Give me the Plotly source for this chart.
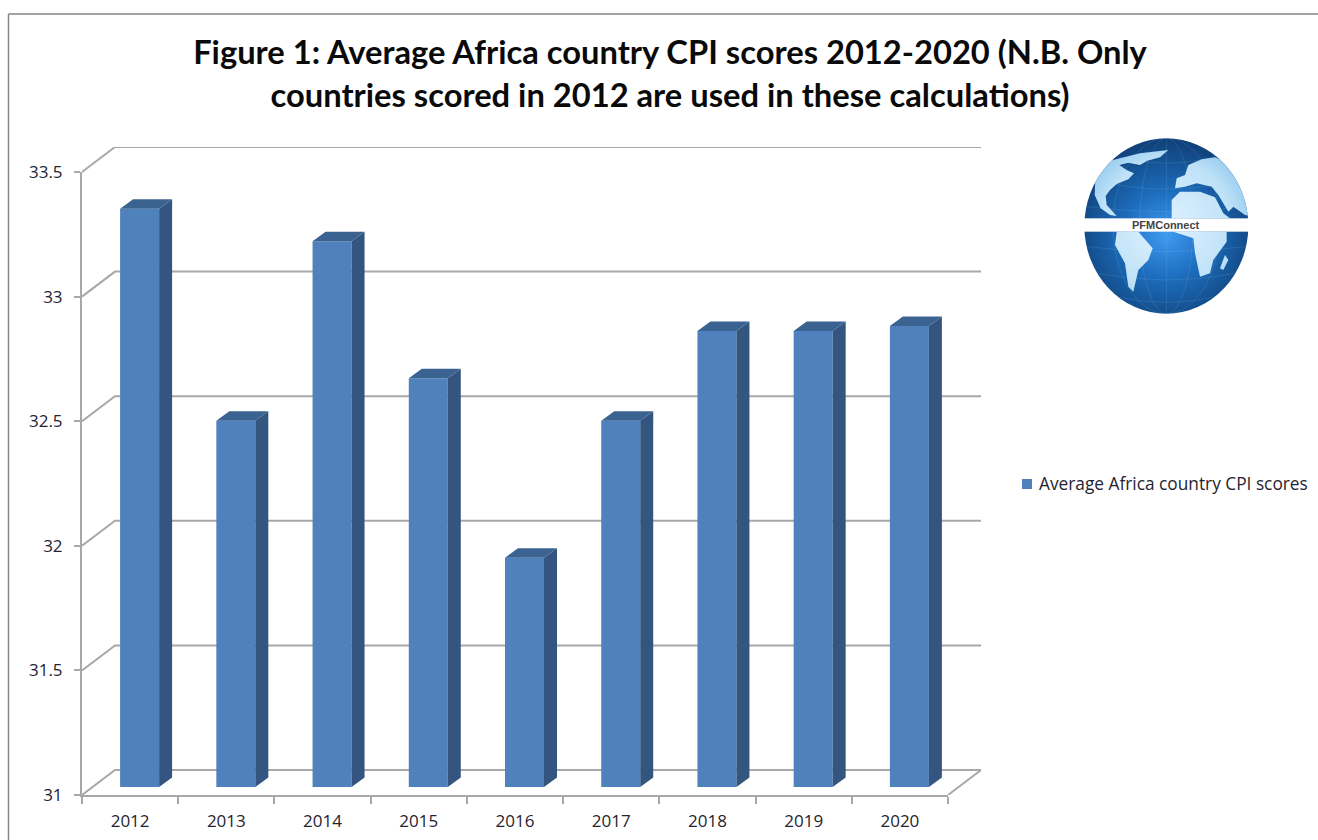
import base64
import plotly.graph_objects as go

years = ["2012", "2013", "2014", "2015", "2016", "2017", "2018", "2019", "2020"]
scores = [33.32, 32.47, 33.19, 32.64, 31.92, 32.47, 32.83, 32.83, 32.85]
y_ticks = [31, 31.5, 32, 32.5, 33, 33.5]
y_labels = ["31", "31.5", "32", "32.5", "33", "33.5"]
series_name = "Average Africa country CPI scores"
title_text = ("Figure 1: Average Africa country CPI scores 2012-2020 (N.B. Only<br>"
              "countries scored in 2012 are used in these calculations)")

W, H = 1318, 840
GRID = "#a8a8a8"
FRONT, SIDE, TOP = "#4f81bd", "#335580", "#3a6391"
TEXT = "#1f2430"
FONT = "Open Sans"

# pixel geometry of the front plane of the pseudo-3D box
left, right, bottom, top = 82, 948, 795, 172
px_x = (right - left) / 9
px_y = (bottom - top) / 2.5
wall_px_x, wall_px_y = 33, 25                  # depth of the chart box
wall_dx, wall_dy = wall_px_x / px_x, wall_px_y / px_y
shift_x, shift_y = 9.5, 8                      # bars stand part-way into the box
bar_w = 39 / px_x
bar_px_x, bar_px_y = 13, 9.5                   # depth of one bar
bar_dx, bar_dy = bar_px_x / px_x, bar_px_y / px_y
x_rng = [-0.5, 8.5 + wall_dx]
y_rng = [31, 33.5 + wall_dy]


def fx(a, b):
    return [a / W, b / W]


def fy(a, b):
    return [1 - a / H, 1 - b / H]


xs = list(range(len(years)))
fig = go.Figure()

# carrier for the visible axes
fig.add_trace(go.Scatter(x=xs, y=scores, mode="none", hoverinfo="skip", showlegend=False, xaxis="x", yaxis="y"))

# back-wall gridlines with their diagonal on the left wall
for v in y_ticks:
    fig.add_trace(go.Scatter(
        x=[-0.5, -0.5 + wall_dx, 8.5 + wall_dx], y=[v, v + wall_dy, v + wall_dy],
        mode="lines", line=dict(color=GRID, width=2),
        hoverinfo="skip", showlegend=False, xaxis="x2", yaxis="y2"))
# right edge of the floor
fig.add_trace(go.Scatter(
    x=[8.5, 8.5 + wall_dx], y=[y_ticks[0], y_ticks[0] + wall_dy],
    mode="lines", line=dict(color=GRID, width=2),
    hoverinfo="skip", showlegend=False, xaxis="x2", yaxis="y2"))

# bars: front faces
fig.add_trace(go.Bar(
    x=xs, y=scores, width=bar_w, name=series_name, marker=dict(color=FRONT, line=dict(width=0)),
    showlegend=False, xaxis="x3", yaxis="y3",
    customdata=years, hovertemplate="%{customdata}: %{y}<extra></extra>"))

# bars: side and top faces
base = y_ticks[0]
for x, v in zip(xs, scores):
    r = x + bar_w / 2
    l = x - bar_w / 2
    fig.add_trace(go.Scatter(
        x=[r, r + bar_dx, r + bar_dx, r, r], y=[base, base + bar_dy, v + bar_dy, v, base],
        mode="lines", fill="toself", fillcolor=SIDE, line=dict(width=0),
        hoverinfo="skip", showlegend=False, xaxis="x3", yaxis="y3"))
    fig.add_trace(go.Scatter(
        x=[l, l + bar_dx, r + bar_dx, r, l], y=[v, v + bar_dy, v + bar_dy, v, v],
        mode="lines", fill="toself", fillcolor=TOP, line=dict(width=0),
        hoverinfo="skip", showlegend=False, xaxis="x3", yaxis="y3"))

# globe logo
svg = """<svg xmlns="http://www.w3.org/2000/svg" width="630" height="630" viewBox="0 0 630 630">
<defs>
<radialGradient id="s" gradientUnits="userSpaceOnUse" cx="319" cy="345" r="290">
<stop offset="0" stop-color="#3f9bf2"/><stop offset="0.45" stop-color="#1d6dbd"/>
<stop offset="0.8" stop-color="#14508f"/><stop offset="1" stop-color="#0f3f78"/></radialGradient>
<radialGradient id="l" gradientUnits="userSpaceOnUse" cx="319" cy="318" r="280">
<stop offset="0" stop-color="#e0f2fd"/><stop offset="0.7" stop-color="#bfe2f8"/>
<stop offset="1" stop-color="#8fc6ec"/></radialGradient>
<clipPath id="c"><ellipse cx="319" cy="318" rx="246" ry="263"/></clipPath>
<filter id="b"><feGaussianBlur stdDeviation="2"/></filter>
</defs>
<ellipse cx="319" cy="318" rx="246" ry="263" fill="url(#s)"/>
<g fill="none" stroke="#9fd0f5" stroke-opacity="0.28" stroke-width="1.5" clip-path="url(#c)">
<ellipse cx="319" cy="318" rx="80" ry="263"/><ellipse cx="319" cy="318" rx="160" ry="263"/>
<line x1="319" y1="55" x2="319" y2="581"/>
<path d="M108,180 Q319,235 530,180"/><path d="M80,260 Q319,290 558,260"/>
<path d="M80,380 Q319,410 558,380"/><path d="M108,460 Q319,500 530,460"/>
<path d="M170,110 Q319,150 468,110"/><path d="M170,530 Q319,565 468,530"/>
</g>
<g clip-path="url(#c)"><g fill="url(#l)" filter="url(#b)">
<path d="M150,122 L240,100 L325,90 L300,112 L262,122 L240,135 L205,128 L178,135 L200,150 L222,160 L205,178 L170,192 L150,210 L137,228 L140,255 L170,288 L150,285 L122,265 L104,225 L106,175 Z"/>
<path d="M350,175 L375,165 L385,135 L425,118 L465,112 L510,130 L580,200 L580,290 L555,285 L520,260 L505,275 L475,225 L455,200 L410,190 L375,200 L345,205 Z"/>
<path d="M335,240 L360,215 L420,215 L465,232 L490,280 L510,295 L335,295 Z"/>
<path d="M340,335 L500,335 L500,365 L460,420 L450,460 L420,470 L405,400 L400,355 L370,345 Z"/>
<path d="M495,405 L505,420 L490,450 L480,445 Z"/>
<path d="M170,335 L235,335 L278,385 L265,420 L235,450 L220,515 L205,500 L195,430 L165,375 Z"/>
</g></g>
<rect x="60" y="295" width="520" height="40" fill="#ffffff"/>
</svg>"""
logo = "data:image/svg+xml;base64," + base64.b64encode(svg.encode()).decode()

hidden = dict(visible=False, showgrid=False, zeroline=False)
fig.update_layout(
    template="none",
    width=W, height=H, autosize=False, margin=dict(l=0, r=0, t=0, b=0, autoexpand=False),
    paper_bgcolor="white", plot_bgcolor="rgba(0,0,0,0)", showlegend=False,
    title=dict(text=title_text, x=670 / W, xanchor="center", y=1 - 64 / H, yanchor="top",
               font=dict(family="Lato", size=32.7, color="#0a0a0a", weight="bold")),
    font=dict(family=FONT, size=17, color=TEXT),
    xaxis=dict(domain=fx(left, right), range=[-0.5, 8.5], tickmode="array", tickvals=xs, ticktext=years,
               ticks="", showline=True, linecolor=GRID, linewidth=2, ticklabelstandoff=10,
               showgrid=False, zeroline=False,
               minor=dict(tickmode="array", tickvals=[i - 0.5 for i in range(len(years) + 1)],
                          ticks="outside", ticklen=7, tickcolor=GRID, tickwidth=2, showgrid=False)),
    yaxis=dict(domain=fy(bottom, top), range=[31, 33.5], tickmode="array", tickvals=y_ticks, ticktext=y_labels,
               ticks="outside", ticklen=6, tickcolor=GRID, tickwidth=2, showline=True, linecolor=GRID, linewidth=2,
               ticklabelstandoff=8, showgrid=False, zeroline=False),
    xaxis2=dict(domain=fx(left, right + wall_px_x), range=x_rng, anchor="y2", **hidden),
    yaxis2=dict(domain=fy(bottom, top - wall_px_y), range=y_rng, anchor="x2", **hidden),
    xaxis3=dict(domain=fx(left + shift_x, right + wall_px_x + shift_x), range=x_rng, anchor="y3", **hidden),
    yaxis3=dict(domain=fy(bottom - shift_y, top - wall_px_y - shift_y), range=y_rng, anchor="x3", **hidden),
    images=[dict(source=logo, xref="paper", yref="paper", x=1060 / W, y=1 - 120 / H, sizex=210 / W, sizey=210 / H,
                 xanchor="left", yanchor="top", layer="above", sizing="stretch")],
    shapes=[
        dict(type="line", xref="paper", yref="paper", x0=8.5 / W, x1=1, y0=1 - 14 / H, y1=1 - 14 / H,
             line=dict(color="#868686", width=1.5)),
        dict(type="line", xref="paper", yref="paper", x0=8.5 / W, x1=8.5 / W, y0=0, y1=1 - 14 / H,
             line=dict(color="#868686", width=1.5)),
        dict(type="rect", xref="paper", yref="paper", x0=1022 / W, x1=1032 / W, y0=1 - 489 / H, y1=1 - 479 / H,
             fillcolor=FRONT, line=dict(width=0)),
    ],
    annotations=[
        dict(text=series_name, xref="paper", yref="paper", x=1037 / W, y=1 - 484 / H, xanchor="left",
             yanchor="middle", showarrow=False, font=dict(family=FONT, size=17.3, color=TEXT)),
        dict(text="<b>PFMConnect</b>", xref="paper", yref="paper", x=1166 / W, y=1 - 225 / H, xanchor="center",
             yanchor="middle", showarrow=False, font=dict(family="Liberation Sans", size=11, color="#444444")),
    ],
)

fig.write_html("out.html", post_script="document.body.style.margin='0';", config={"displayModeBar": False})
